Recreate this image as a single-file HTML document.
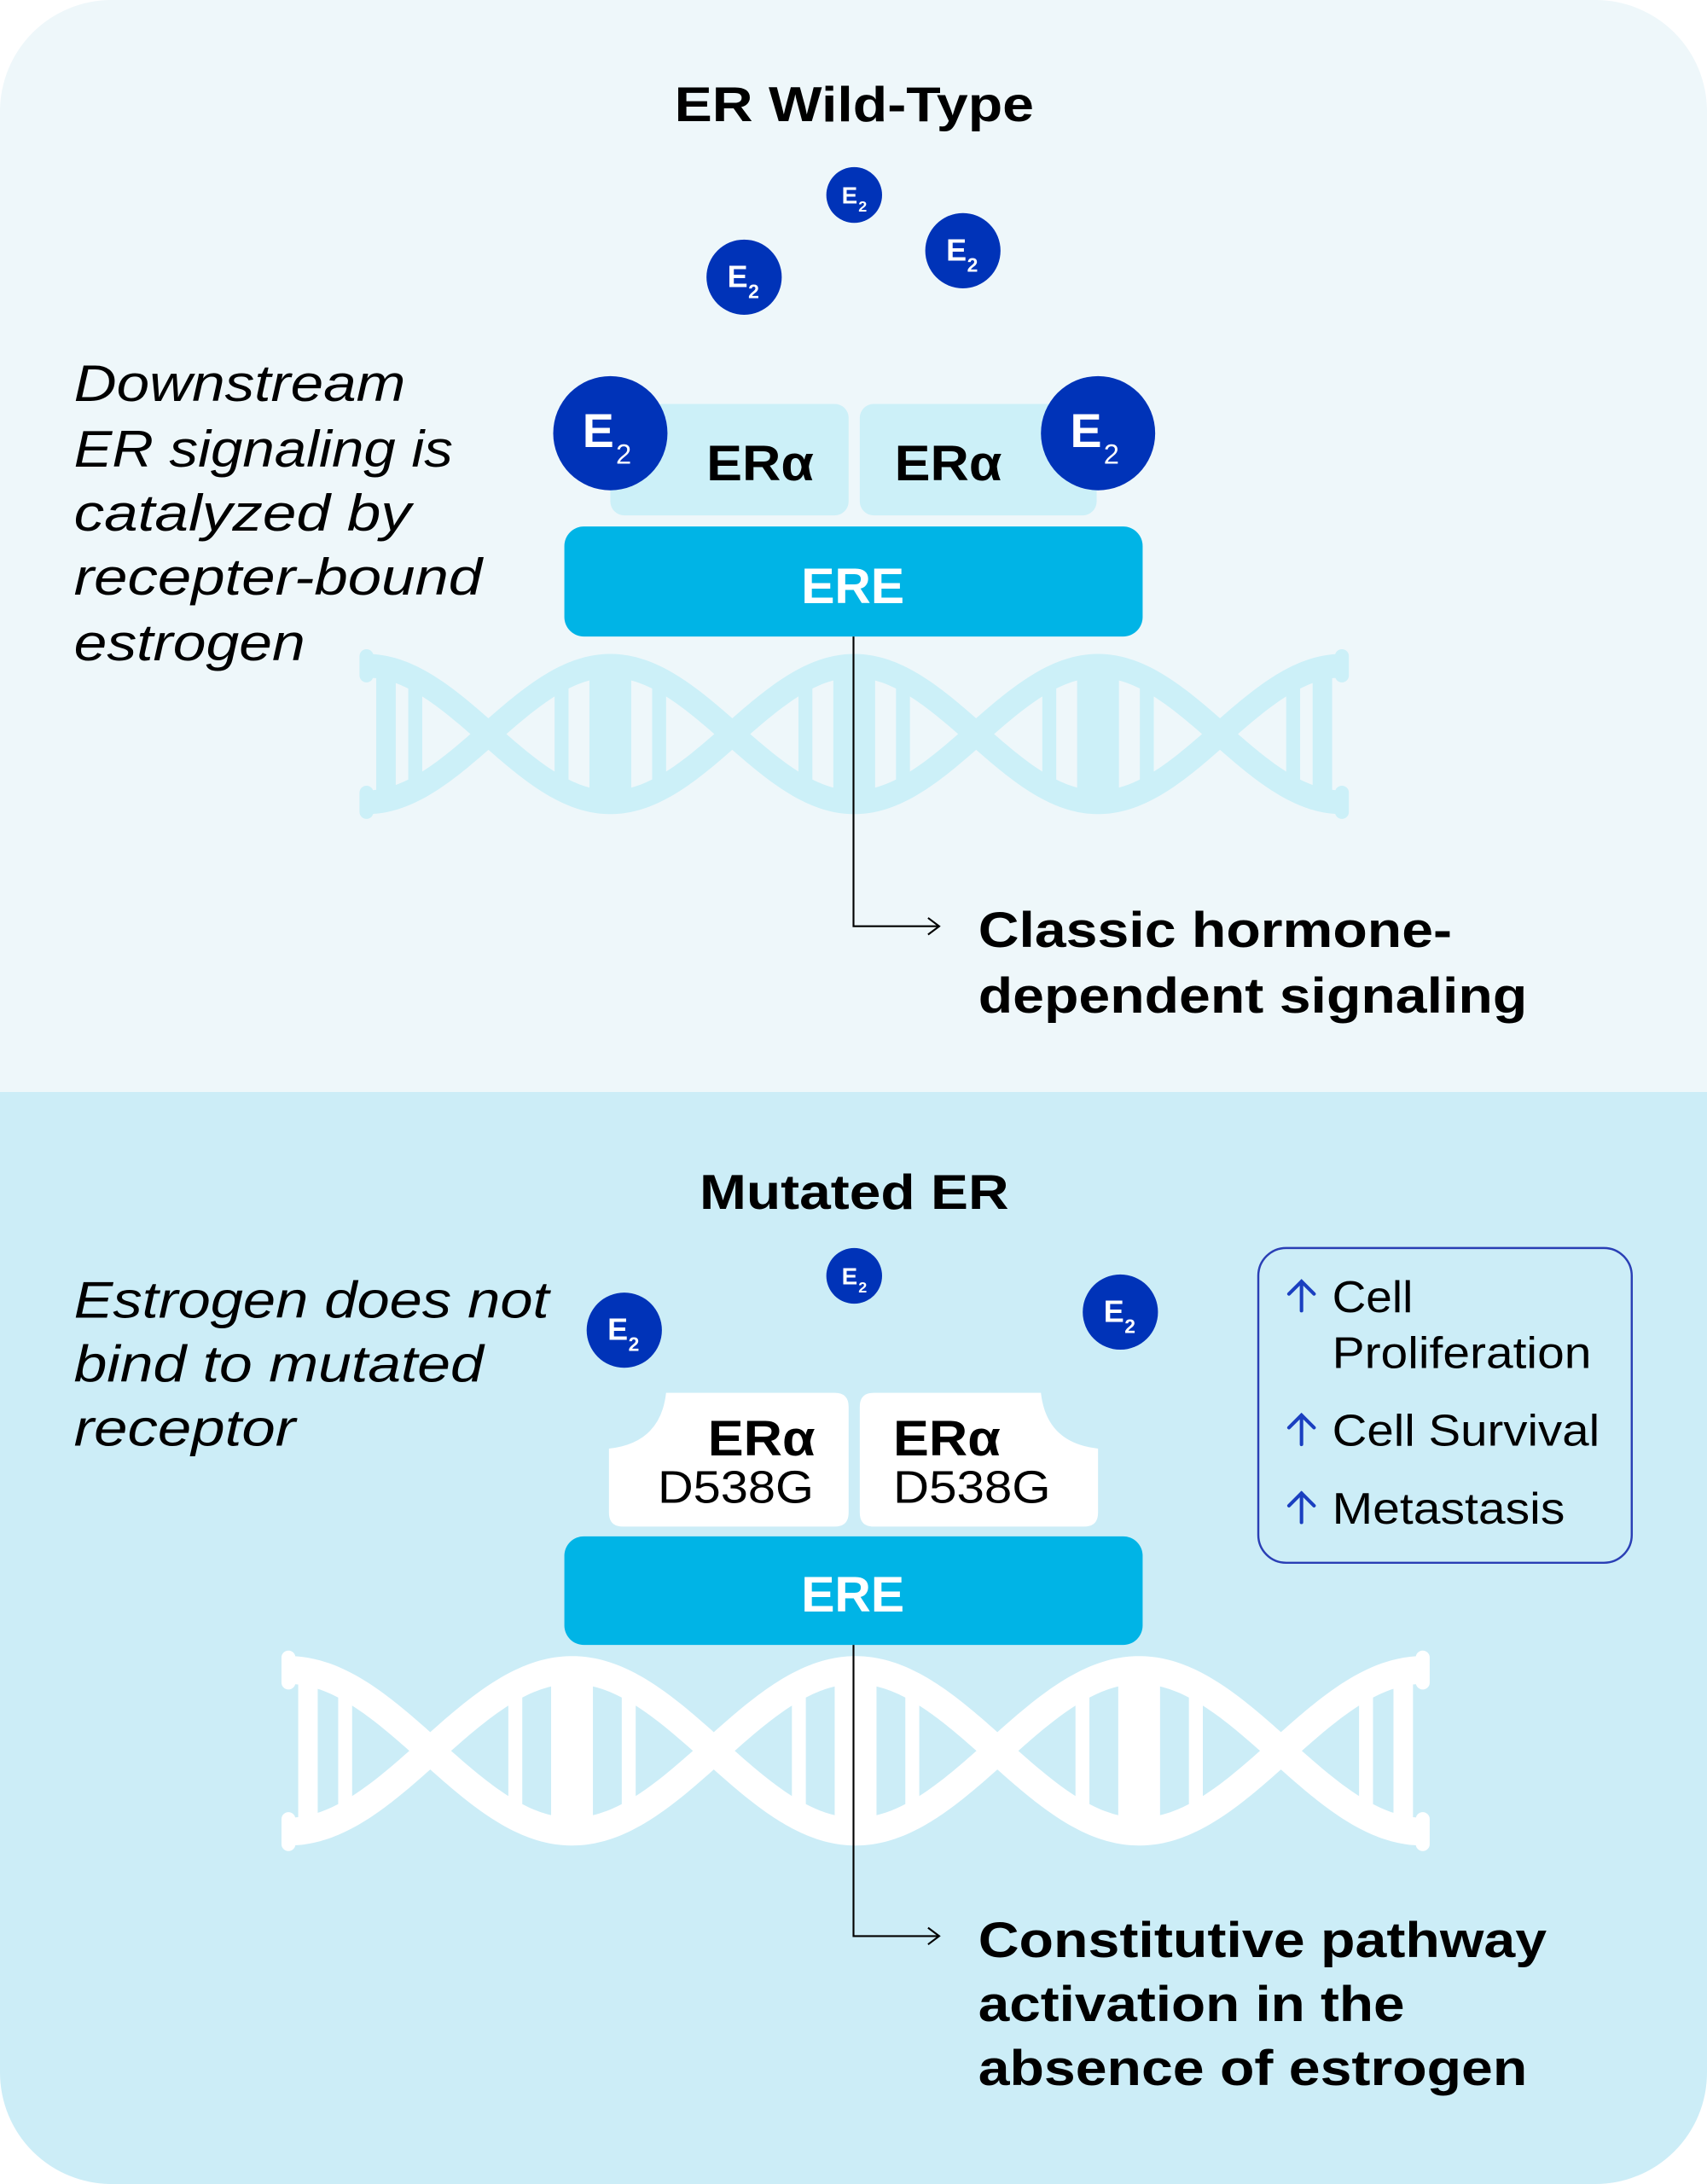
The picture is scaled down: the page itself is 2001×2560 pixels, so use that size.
<!DOCTYPE html>
<html><head><meta charset="utf-8"><style>
html,body{margin:0;padding:0;background:#fff}
svg{display:block}
text{font-family:"Liberation Sans","DejaVu Sans",sans-serif}
</style></head><body>
<svg width="2001" height="2560" viewBox="0 0 1225 1568" preserveAspectRatio="none" xmlns="http://www.w3.org/2000/svg">
<defs>
<clipPath id="card"><rect x="0" y="0" width="1225" height="1568" rx="80"/></clipPath>
</defs>
<g clip-path="url(#card)">
<rect x="0" y="0" width="1225" height="784" fill="#eef7fa"/>
<rect x="0" y="784" width="1225" height="784" fill="#ccedf7"/>
</g>

<!-- TOP -->
<text x="484" y="87" font-size="35" font-weight="bold" textLength="258" lengthAdjust="spacingAndGlyphs">ER Wild-Type</text>
<g font-style="italic" font-size="37" fill="#000">
<text x="53" y="288" textLength="238" lengthAdjust="spacingAndGlyphs">Downstream</text>
<text x="53" y="335" textLength="272" lengthAdjust="spacingAndGlyphs">ER signaling is</text>
<text x="53" y="381" textLength="242" lengthAdjust="spacingAndGlyphs">catalyzed by</text>
<text x="53" y="427" textLength="293" lengthAdjust="spacingAndGlyphs">recepter-bound</text>
<text x="53" y="474" textLength="166" lengthAdjust="spacingAndGlyphs">estrogen</text>
</g>

<g id="dna1"></g>

<!-- small E2 -->
<g fill="#0033b8">
<circle cx="613" cy="140" r="20"/><circle cx="534" cy="199" r="27"/><circle cx="691" cy="180" r="27"/>
</g>
<g fill="#fff" font-weight="bold">
<text x="604" y="146" font-size="17">E</text><text x="616" y="152" font-size="11">2</text>
<text x="522" y="206" font-size="22">E</text><text x="537" y="214" font-size="14">2</text>
<text x="679" y="187" font-size="22">E</text><text x="694" y="195" font-size="14">2</text>
</g>

<!-- ERa boxes -->
<rect x="438" y="290" width="171" height="80" rx="10" fill="#ccf0f8"/>
<rect x="617" y="290" width="170" height="80" rx="10" fill="#ccf0f8"/>
<text x="507" y="345" font-size="36" font-weight="bold" textLength="77" lengthAdjust="spacingAndGlyphs">ERα</text>
<text x="642" y="345" font-size="36" font-weight="bold" textLength="77" lengthAdjust="spacingAndGlyphs">ERα</text>
<circle cx="438" cy="311" r="41" fill="#0033b8"/>
<circle cx="788" cy="311" r="41" fill="#0033b8"/>
<g fill="#fff"><text x="418" y="321" font-size="34" font-weight="bold">E</text><text x="442" y="333" font-size="20">2</text>
<text x="768" y="321" font-size="34" font-weight="bold">E</text><text x="792" y="333" font-size="20">2</text></g>

<rect x="405" y="378" width="415" height="79" rx="14" fill="#00b4e6"/>
<text x="612" y="433" font-size="36" font-weight="bold" text-anchor="middle" fill="#fff">ERE</text>

<!-- BOTTOM -->
<text x="502" y="868" font-size="35" font-weight="bold" textLength="222" lengthAdjust="spacingAndGlyphs">Mutated ER</text>
<g font-style="italic" font-size="37">
<text x="53" y="946" textLength="341" lengthAdjust="spacingAndGlyphs">Estrogen does not</text>
<text x="53" y="992" textLength="294" lengthAdjust="spacingAndGlyphs">bind to mutated</text>
<text x="53" y="1038" textLength="159" lengthAdjust="spacingAndGlyphs">receptor</text>
</g>
<g fill="#0033b8">
<circle cx="613" cy="916" r="20"/><circle cx="448" cy="955" r="27"/><circle cx="804" cy="942" r="27"/>
</g>
<g fill="#fff" font-weight="bold">
<text x="604" y="922" font-size="17">E</text><text x="616" y="928" font-size="11">2</text>
<text x="436" y="962" font-size="22">E</text><text x="451" y="970" font-size="14">2</text>
<text x="792" y="949" font-size="22">E</text><text x="807" y="957" font-size="14">2</text>
</g>

<path d="M478 1000 H599 Q609 1000 609 1010 V1086 Q609 1096 599 1096 H447 Q437 1096 437 1086 V1040 Q474 1036 478 1000 Z" fill="#fff"/>
<path d="M747 1000 H627 Q617 1000 617 1010 V1086 Q617 1096 627 1096 H778 Q788 1096 788 1086 V1040 Q751 1036 747 1000 Z" fill="#fff"/>
<text x="508" y="1045" font-size="36" font-weight="bold" textLength="77" lengthAdjust="spacingAndGlyphs">ERα</text>
<text x="472" y="1079" font-size="33" textLength="112" lengthAdjust="spacingAndGlyphs">D538G</text>
<text x="641" y="1045" font-size="36" font-weight="bold" textLength="77" lengthAdjust="spacingAndGlyphs">ERα</text>
<text x="641" y="1079" font-size="33" textLength="113" lengthAdjust="spacingAndGlyphs">D538G</text>

<rect x="405" y="1103" width="415" height="78" rx="14" fill="#00b4e6"/>
<text x="612" y="1157" font-size="36" font-weight="bold" text-anchor="middle" fill="#fff">ERE</text>

<g id="dna2"></g>

<!-- connectors -->
<g stroke="#000" stroke-width="1.3" fill="none">
<path d="M612.5 457 V665 H674"/><path d="M666 659 L674 665 L666 671"/>
<path d="M612.5 1181 V1390 H674"/><path d="M666 1384 L674 1390 L666 1396"/>
</g>
<g font-size="36" font-weight="bold">
<text x="702" y="680" textLength="340" lengthAdjust="spacingAndGlyphs">Classic hormone-</text>
<text x="702" y="727" textLength="394" lengthAdjust="spacingAndGlyphs">dependent signaling</text>
<text x="702" y="1405" textLength="408" lengthAdjust="spacingAndGlyphs">Constitutive pathway</text>
<text x="702" y="1451" textLength="306" lengthAdjust="spacingAndGlyphs">activation in the</text>
<text x="702" y="1497" textLength="394" lengthAdjust="spacingAndGlyphs">absence of estrogen</text>
</g>

<rect x="903" y="896" width="268" height="226" rx="20" fill="none" stroke="#2a3fb5" stroke-width="1.5"/>
<g stroke="#1a3fc0" stroke-width="2.5" fill="none" stroke-linecap="round">
<path d="M934 941 V920 M925 929 L934 920 L943 929"/>
<path d="M934 1037 V1016 M925 1025 L934 1016 L943 1025"/>
<path d="M934 1093 V1072 M925 1081 L934 1072 L943 1081"/>
</g>
<g font-size="32" fill="#000">
<text x="956" y="942" textLength="58" lengthAdjust="spacingAndGlyphs">Cell</text>
<text x="956" y="982" textLength="186" lengthAdjust="spacingAndGlyphs">Proliferation</text>
<text x="956" y="1038" textLength="192" lengthAdjust="spacingAndGlyphs">Cell Survival</text>
<text x="956" y="1094" textLength="167" lengthAdjust="spacingAndGlyphs">Metastasis</text>
</g>
</svg>
<script>
function dna(id,x0,x1,cy,amp,half,sw,color){
  var g=document.getElementById(id),ns="http://www.w3.org/2000/svg",P=half*2,s="",t="";
  for(var x=x0;x<=x1;x+=2){var c=Math.cos(2*Math.PI*(x-x0)/P);s+=(x==x0?"M":"L")+x+" "+(cy-amp*c);t+=(x==x0?"M":"L")+x+" "+(cy+amp*c);}
  [s,t].forEach(function(d){var p=document.createElementNS(ns,"path");p.setAttribute("d",d);p.setAttribute("fill","none");p.setAttribute("stroke",color);p.setAttribute("stroke-width",sw);g.appendChild(p);});
  function bar(x,w){var c=Math.abs(Math.cos(2*Math.PI*(x-x0)/P));var r=document.createElementNS(ns,"rect");r.setAttribute("x",x-w/2);r.setAttribute("width",w);r.setAttribute("y",cy-amp*c);r.setAttribute("height",2*amp*c);r.setAttribute("fill",color);g.appendChild(r);}
  for(var k=0;x0+k*half<=x1+1;k++){var px=x0+k*half;
    if(k==0)bar(px+14,14);else if(px>=x1-1)bar(px-14,14);else bar(px,30);
    if(px+half<=x1+1){var cx=px+half/2;bar(cx-half*0.3,10);bar(cx+half*0.3,10);}
  }
  [x0,x1].forEach(function(ex){[cy-amp,cy+amp].forEach(function(ey){var r=document.createElementNS(ns,"rect");r.setAttribute("x",ex-5);r.setAttribute("y",ey-sw*0.7);r.setAttribute("width",10);r.setAttribute("height",sw*1.4);r.setAttribute("rx",5);r.setAttribute("fill",color);g.appendChild(r);});});
}
dna("dna1",263,963,527,49,175,17,"#ccf0f8");
dna("dna2",207,1021,1257,58,203.5,20,"#ffffff");
</script>
</body></html>
